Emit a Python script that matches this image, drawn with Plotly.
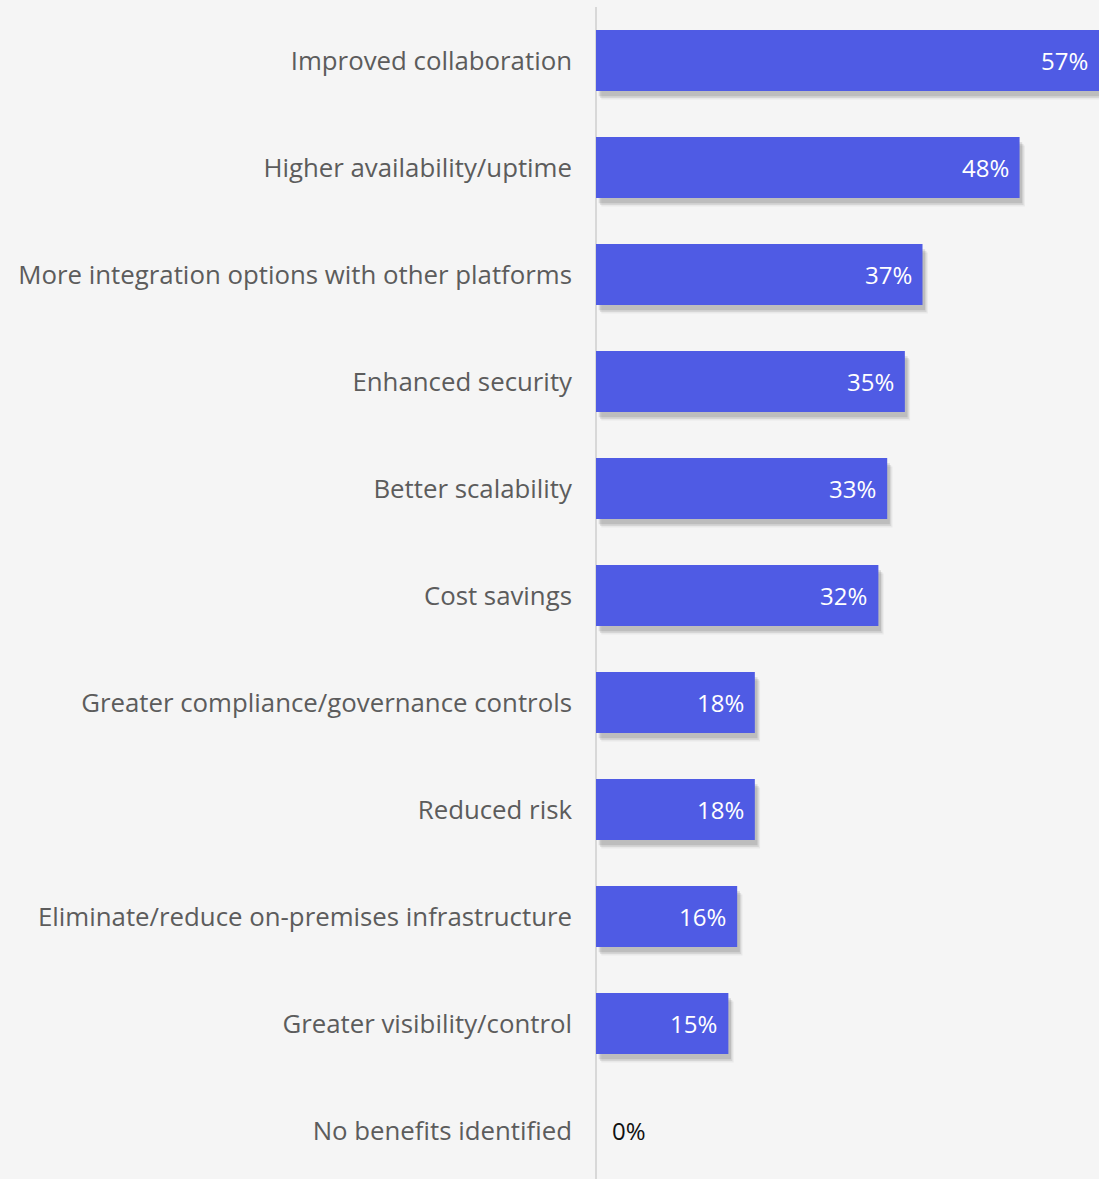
import plotly.graph_objects as go

# Survey results: reported benefits (percent of respondents)
categories = [
    "Improved collaboration",
    "Higher availability/uptime",
    "More integration options with other platforms",
    "Enhanced security",
    "Better scalability",
    "Cost savings",
    "Greater compliance/governance controls",
    "Reduced risk",
    "Eliminate/reduce on-premises infrastructure",
    "Greater visibility/control",
    "No benefits identified",
]
values = [57, 48, 37, 35, 33, 32, 18, 18, 16, 15, 0]
value_labels = [f"{v}%" for v in values]

BAR_COLOR = "#4f5be4"
BG = "#f5f5f5"
FONT = "Open Sans"
BAR_W = 0.57

fig = go.Figure()

# soft drop shadow: a few offset translucent copies behind each bar
shadow_layers = [
    (0.60, 0.080, 0.05),
    (0.45, 0.065, 0.08),
    (0.30, 0.048, 0.11),
]
for dx, dy, alpha in shadow_layers:
    fig.add_trace(go.Bar(
        y=categories, x=values, base=dx, orientation="h",
        width=BAR_W, offset=-BAR_W / 2 + dy,
        marker=dict(color=f"rgba(0,0,0,{alpha})", line=dict(width=0)),
        hoverinfo="skip", showlegend=False,
    ))

fig.add_trace(go.Bar(
    y=categories, x=values, orientation="h", width=BAR_W,
    marker=dict(color=BAR_COLOR, line=dict(width=0)),
    showlegend=False,
))

# value labels: inside the bar end, or just past the axis for empty bars
for cat, v, lab in zip(categories, values, value_labels):
    if v > 0:
        fig.add_annotation(x=v, y=cat, text=lab, showarrow=False,
                           xanchor="right", xshift=-9,
                           font=dict(family=FONT, size=24, color="white"))
    else:
        fig.add_annotation(x=v, y=cat, text=lab, showarrow=False,
                           xanchor="left", xshift=14,
                           font=dict(family=FONT, size=24, color="#111111"))

# axis line at zero
fig.add_shape(type="line", xref="paper", yref="paper", x0=0, x1=0, y0=0, y1=1,
              line=dict(color="#d8d8d8", width=2), layer="below")

fig.update_layout(
    width=1099, height=1179,
    margin=dict(l=596, r=0, t=7, b=0),
    paper_bgcolor=BG, plot_bgcolor=BG,
    barmode="overlay",
    font=dict(family=FONT),
    xaxis=dict(range=[0, 57], visible=False, fixedrange=True),
    yaxis=dict(
        type="category", range=[10.453, -0.5],
        showgrid=False, zeroline=False, showline=False, ticks="",
        ticklabelstandoff=23,
        tickfont=dict(family=FONT, size=25.8, color="#5c5c5c"),
    ),
)

fig.write_html("out.html")
